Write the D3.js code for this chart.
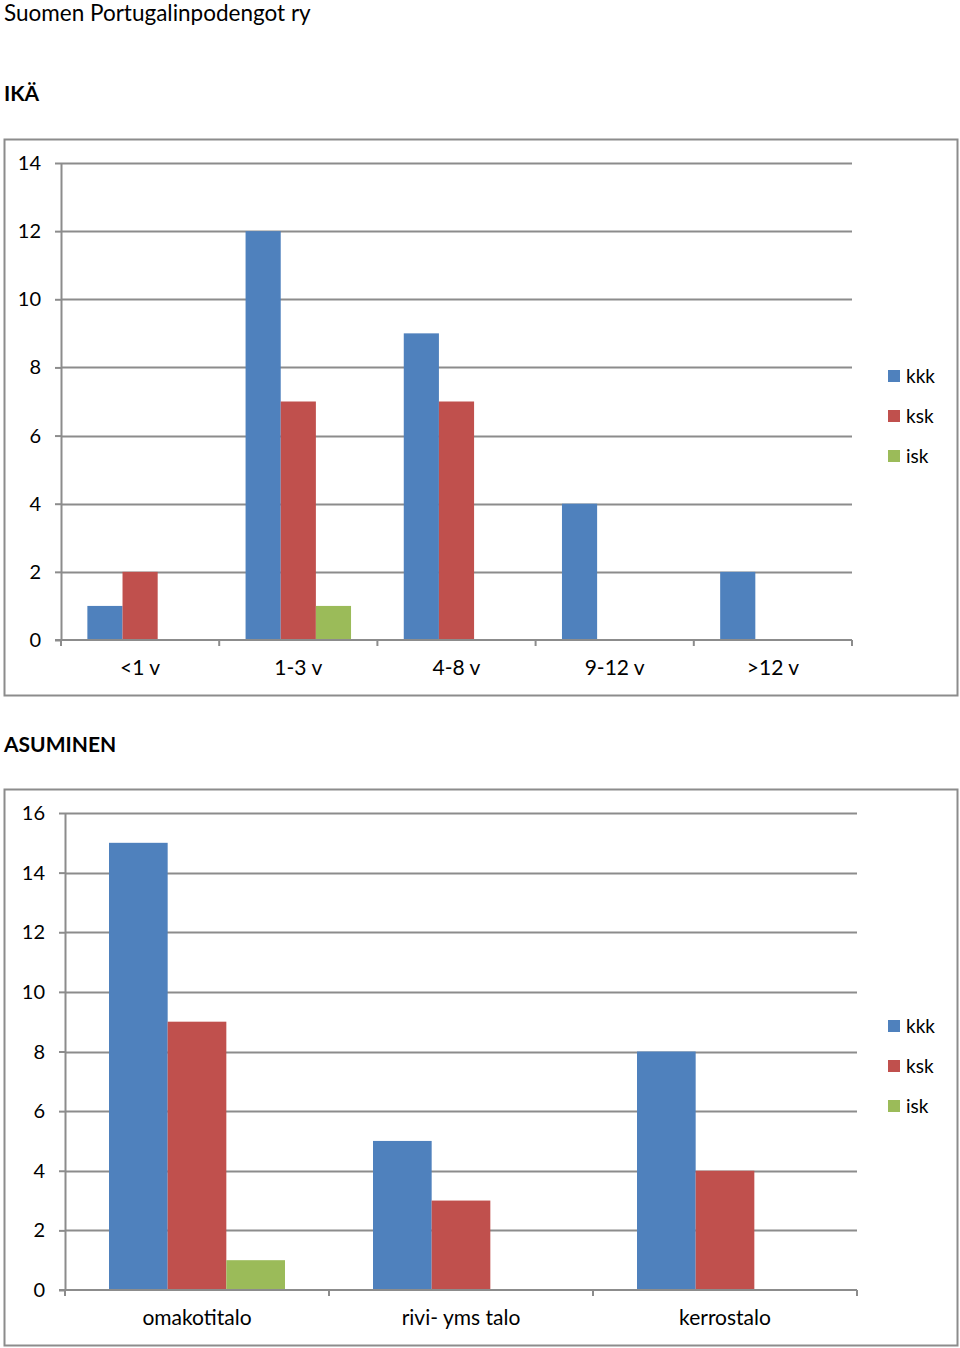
<!DOCTYPE html>
<html>
<head>
<meta charset="utf-8">
<script src="https://cdn.jsdelivr.net/npm/d3@7"></script>
<style>
  body { margin: 0; background: #fff; }
  svg text { font-family: Lato, "Open Sans", sans-serif; fill: #000; }
</style>
</head>
<body>
<div id="container"></div>
<script>
// series names and colours
var seriesNames = ["kkk", "ksk", "isk"];
var seriesColors = ["#4F81BD", "#C0504D", "#9BBB59"];

// IKÄ chart
var ageCategories = ["<1 v", "1-3 v", "4-8 v", "9-12 v", ">12 v"];
var ageKkk = [1, 12, 9, 4, 2];
var ageKsk = [2, 7, 7, 0, 0];
var ageIsk = [0, 1, 0, 0, 0];
var ageTicks = [0, 2, 4, 6, 8, 10, 12, 14];

// ASUMINEN chart
var houseCategories = ["omakotitalo", "rivi- yms talo", "kerrostalo"];
var houseKkk = [15, 5, 8];
var houseKsk = [9, 3, 4];
var houseIsk = [1, 0, 0];
var houseTicks = [0, 2, 4, 6, 8, 10, 12, 14, 16];

(function(){
    var svg = d3.select("#container")
        .append("svg")
        .attr("width", 960)
        .attr("height", 1348);

    svg.append("text").attr("x", 4).attr("y", 21)
        .style("font-size", "22.5px").text("Suomen Portugalinpodengot ry");
    svg.append("text").attr("x", 4).attr("y", 101)
        .style("font-size", "21px").style("font-weight", "bold").text("IKÄ");
    svg.append("text").attr("x", 4).attr("y", 752)
        .style("font-size", "21px").style("font-weight", "bold").text("ASUMINEN");

    drawChart({
        frame: [4.5, 139.5, 953, 556],
        plot: {left: 61, right: 852, top: 163, bottom: 640},
        categories: ageCategories,
        series: [ageKkk, ageKsk, ageIsk],
        ticks: ageTicks,
        labelY: 675,
        tickX: 41,
        legendY: 376
    });

    drawChart({
        frame: [4.5, 789.5, 953, 556],
        plot: {left: 65, right: 857, top: 813, bottom: 1290},
        categories: houseCategories,
        series: [houseKkk, houseKsk, houseIsk],
        ticks: houseTicks,
        labelY: 1325,
        tickX: 45,
        legendY: 1026
    });

    function drawChart(cfg){
        var p = cfg.plot;
        var g = svg.append("g");

        //outer frame
        g.append("rect")
            .attr("x", cfg.frame[0]).attr("y", cfg.frame[1])
            .attr("width", cfg.frame[2]).attr("height", cfg.frame[3])
            .attr("fill", "none").attr("stroke", "#8c8c8c").attr("stroke-width", 2);

        var maxTick = cfg.ticks[cfg.ticks.length - 1];
        var y = d3.scaleLinear().domain([0, maxTick]).range([p.bottom, p.top]);
        var x = d3.scaleBand().domain(cfg.categories).range([p.left, p.right]);
        var bw = x.bandwidth() / 4.5; // excel gap width 150%
        var xs = d3.scaleBand().domain(seriesNames).range([0.75 * bw, 3.75 * bw]);

        //gridlines
        g.selectAll(".grid").data(cfg.ticks.slice(1)).enter().append("line")
            .attr("x1", p.left).attr("x2", p.right)
            .attr("y1", function(d){ return Math.round(y(d)) + 0.5; })
            .attr("y2", function(d){ return Math.round(y(d)) + 0.5; })
            .attr("stroke", "#8c8c8c").attr("stroke-width", 2);

        //bars
        seriesNames.forEach(function(name, si){
            g.selectAll(".bar" + si).data(cfg.categories).enter().append("rect")
                .attr("x", function(d){ return x(d) + xs(name); })
                .attr("width", xs.bandwidth())
                .attr("y", function(d, i){ return y(cfg.series[si][i]); })
                .attr("height", function(d, i){ return p.bottom - y(cfg.series[si][i]); })
                .attr("fill", seriesColors[si]);
        });

        //y axis
        var yAxis = d3.axisLeft(y).tickValues(cfg.ticks).tickSize(6).tickSizeOuter(0);
        var ya = g.append("g").attr("transform", "translate(" + p.left + ",0)").call(yAxis);
        ya.select(".domain").attr("stroke", "#8c8c8c").attr("stroke-width", 2);
        ya.selectAll(".tick line").attr("stroke", "#8c8c8c").attr("stroke-width", 2);
        ya.selectAll(".tick text").remove();
        g.selectAll(".ylab").data(cfg.ticks).enter().append("text")
            .attr("x", cfg.tickX).attr("y", function(d){ return y(d) + 7; })
            .attr("text-anchor", "end")
            .style("font-size", "20px")
            .text(function(d){ return d; });

        //x axis
        g.append("line")
            .attr("x1", p.left - 6).attr("x2", p.right)
            .attr("y1", p.bottom).attr("y2", p.bottom)
            .attr("stroke", "#8c8c8c").attr("stroke-width", 2);
        var bounds = cfg.categories.map(function(d){ return x(d); }).concat([p.right]);
        g.selectAll(".xtick").data(bounds).enter().append("line")
            .attr("x1", function(d){ return d; }).attr("x2", function(d){ return d; })
            .attr("y1", p.bottom).attr("y2", p.bottom + 6)
            .attr("stroke", "#8c8c8c").attr("stroke-width", 2);
        g.selectAll(".xlab").data(cfg.categories).enter().append("text")
            .attr("x", function(d){ return x(d) + x.bandwidth() / 2; })
            .attr("y", cfg.labelY)
            .attr("text-anchor", "middle")
            .style("font-size", "21px")
            .text(function(d){ return d; });

        //legend
        seriesNames.forEach(function(name, si){
            var ly = cfg.legendY + si * 40;
            g.append("rect").attr("x", 888).attr("y", ly - 6).attr("width", 12).attr("height", 12)
                .attr("fill", seriesColors[si]);
            g.append("text").attr("x", 906).attr("y", ly + 7)
                .style("font-size", "19px").text(name);
        });
    }
})();
</script>
</body>
</html>
